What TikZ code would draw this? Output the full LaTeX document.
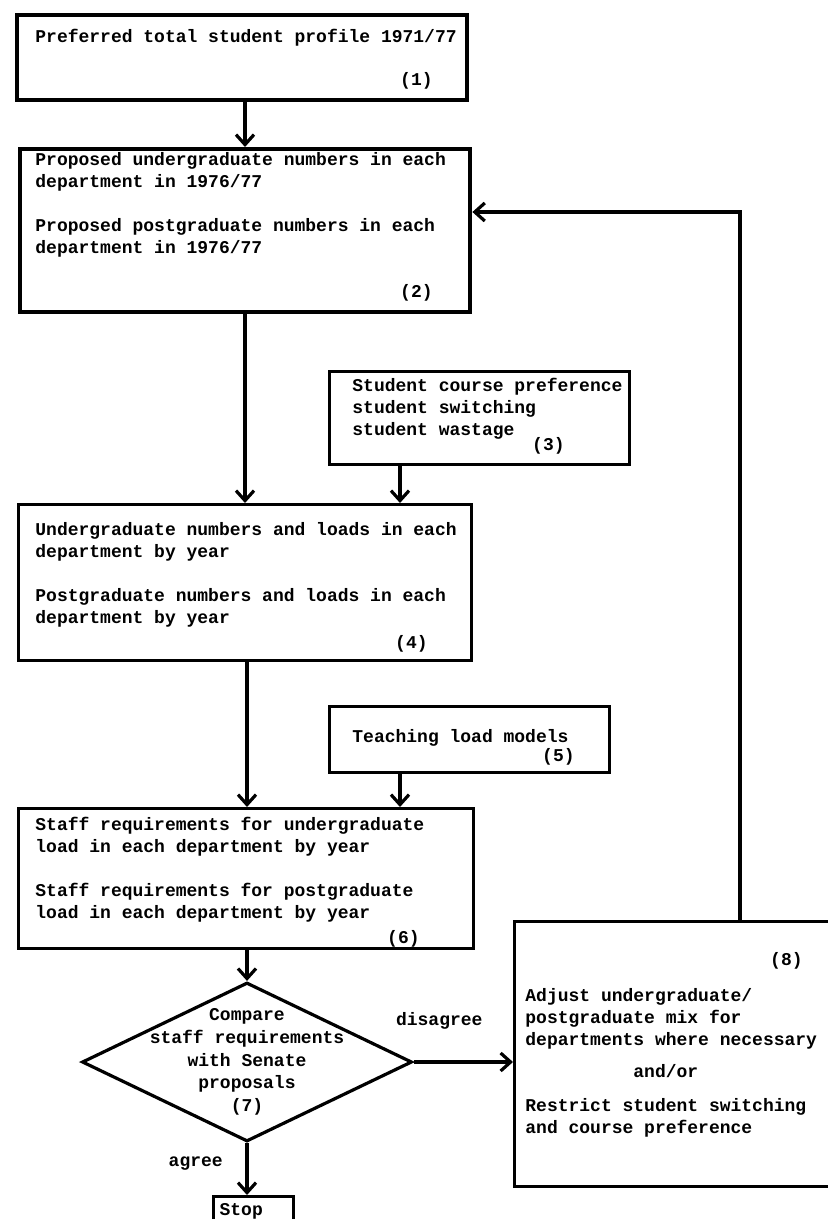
\documentclass[tikz,border=0pt]{standalone}
\usepackage{fontspec}
\setmonofont{Liberation Mono}
\usetikzlibrary{shapes.geometric}
\usetikzlibrary{arrows.meta}

\tikzset{
  blk/.style={draw, line width=1.6pt, anchor=north west, inner sep=0pt},
  thk/.style={line width=2.2pt},
  txt/.style={anchor=north west, align=left, inner sep=0pt,
    font=\ttfamily\bfseries\fontsize{9}{11}\selectfont},
  num/.style={anchor=base east, inner sep=0pt,
    font=\ttfamily\bfseries\fontsize{9}{11}\selectfont},
  arr/.style={line width=1.6pt, -{Straight Barb[length=5pt,width=9pt]}},
}

\begin{document}
\begin{tikzpicture}[x=0.5pt, y=-0.5pt]
    \useasboundingbox (0,0) rectangle (828,1219);

    % boxes
    \node[blk, thk, minimum width=225pt, minimum height=42.5pt] (b1) at (15,13) {};
    \node[blk, thk, minimum width=225pt, minimum height=81.5pt] (b2) at (18,147) {};
    \node[blk, minimum width=150pt, minimum height=46.5pt] (b3) at (328,370) {};
    \node[blk, minimum width=226.5pt, minimum height=78pt] (b4) at (17,503) {};
    \node[blk, minimum width=140pt, minimum height=33pt] (b5) at (328,705) {};
    \node[blk, minimum width=227.5pt, minimum height=70pt] (b6) at (17,807) {};
    \node[draw, line width=1.6pt, shape=diamond, inner sep=0pt, aspect=2.08,
      minimum width=165pt, minimum height=79.5pt] (d7) at (247,1062) {};
    \node[blk, minimum width=162pt, minimum height=132.5pt] (b8) at (513,920) {};
    \node[blk, minimum height=15pt, text width=34pt, inner xsep=3pt, align=left,
      font=\ttfamily\bfseries\fontsize{9}{11}\selectfont] (stop) at (212,1195) {Stop};

    % texts
    \node[txt] (t1) at (35,29) {Preferred total student profile 1971/77};
    \node[num] (n1) at (433,86) {(1)};
    \node[txt] (t2) at (35,152) {Proposed undergraduate numbers in each\\
      department in 1976/77\\[11pt]
      Proposed postgraduate numbers in each\\
      department in 1976/77};
    \node[num] (n2) at (433,298) {(2)};
    \node[txt] (t3) at (352,378) {Student course preference\\
      student switching\\student wastage};
    \node[num] (n3) at (565,450) {(3)};
    \node[txt] (t4) at (35,522) {Undergraduate numbers and loads in each\\
      department by year\\[11pt]
      Postgraduate numbers and loads in each\\
      department by year};
    \node[num] (n4) at (428,648) {(4)};
    \node[txt] (t5) at (352,729) {Teaching load models};
    \node[num] (n5) at (575,761) {(5)};
    \node[txt] (t6) at (35,817) {Staff requirements for undergraduate\\
      load in each department by year\\[11pt]
      Staff requirements for postgraduate\\
      load in each department by year};
    \node[num] (n6) at (420,943) {(6)};
    \node[align=center, inner sep=0pt,
      font=\ttfamily\bfseries\fontsize{9}{11.3}\selectfont] (t7) at (247,1062)
      {Compare\\staff requirements\\with Senate\\proposals\\(7)};
    \node[num] (n8) at (803,965) {(8)};
    \node[txt] (t8) at (525,988) {Adjust undergraduate/\\
      postgraduate mix for\\
      departments where necessary\\[5pt]
      \hspace*{6em}and/or\\[6pt]
      Restrict student switching\\
      and course preference};

    % connectors
    \coordinate (s3) at (400,463);
    \coordinate (s5) at (400,771);
    \coordinate (fb) at (740,212);
    \draw[arr] (b1.south -| 245,0) coordinate (a1) -- (a1 |- b2.north);
    \draw[arr] (b2.south -| 245,0) coordinate (a2) -- (a2 |- b4.north);
    \draw[arr] (s3) -- (s3 |- b4.north);
    \draw[arr] (b4.south -| 247,0) coordinate (a4) -- (a4 |- b6.north);
    \draw[arr] (s5) -- (s5 |- b6.north);
    \draw[arr] (b6.south -| d7.north) -- (d7.north);
    \draw[arr] (d7.east) -- (d7.east -| b8.west)
      node[pos=0.5, above=12pt, xshift=-12pt, font=\ttfamily\bfseries\fontsize{9}{11}\selectfont] (dis) {disagree};
    \draw[arr] (d7.south) -- (d7.south |- stop.north)
      node[pos=0.4, left=8pt, font=\ttfamily\bfseries\fontsize{9}{11}\selectfont] (agr) {agree};
    \draw[arr] (b8.north -| fb) -- (fb) -- (fb -| b2.east);
\end{tikzpicture}
\end{document}
